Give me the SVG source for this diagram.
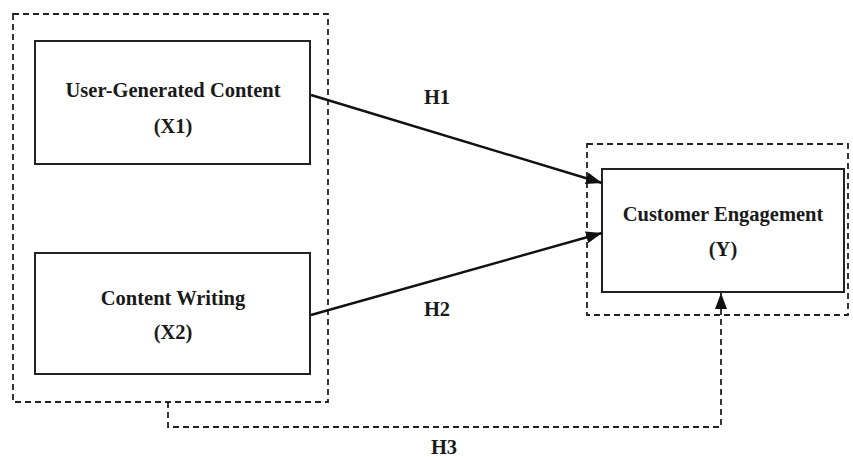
<svg xmlns="http://www.w3.org/2000/svg" width="853" height="457" viewBox="0 0 853 457">
<style>
.box{fill:#fff;stroke:#222;stroke-width:2}
.dash{fill:none;stroke:#222;stroke-width:1.8;stroke-dasharray:6,4}
.t{font-family:"Liberation Serif","Times New Roman",serif;font-weight:bold;font-size:20.5px;fill:#1a1a1a;text-anchor:middle}
.ln{fill:none;stroke:#111;stroke-width:2.4}
</style>
<defs>
<marker id="ah" viewBox="0 0 16 12" refX="16" refY="6" markerWidth="16" markerHeight="12" markerUnits="userSpaceOnUse" orient="auto">
<path d="M0,0 L16,6 L0,12 Z" fill="#111"/>
</marker>
</defs>
<rect width="853" height="457" fill="#fff"/>
<g id="group-x">
<rect class="dash" x="13" y="14" width="315" height="388"/>
</g>
<g id="group-y">
<rect class="dash" x="587" y="144" width="261" height="171"/>
</g>
<g id="x1">
<rect class="box" x="35" y="41" width="275" height="123"/>
<text class="t" x="173" y="97">User-Generated Content</text>
<text class="t" x="173" y="133">(X1)</text>
</g>
<g id="x2">
<rect class="box" x="35" y="253" width="275" height="121"/>
<text class="t" x="173" y="305">Content Writing</text>
<text class="t" x="173" y="339">(X2)</text>
</g>
<g id="y">
<rect class="box" x="602" y="169" width="242" height="123"/>
<text class="t" x="723" y="221">Customer Engagement</text>
<text class="t" x="723" y="256">(Y)</text>
</g>
<g id="connectors">
<line class="ln" x1="311" y1="95" x2="602" y2="183" marker-end="url(#ah)"/>
<line class="ln" x1="311" y1="315" x2="602" y2="233" marker-end="url(#ah)"/>
<polyline class="dash" points="168,402 168,427 721,427 721,293" marker-end="url(#ah)"/>
<text class="t" x="437" y="104">H1</text>
<text class="t" x="437" y="316">H2</text>
<text class="t" x="444" y="454">H3</text>
</g>
</svg>
